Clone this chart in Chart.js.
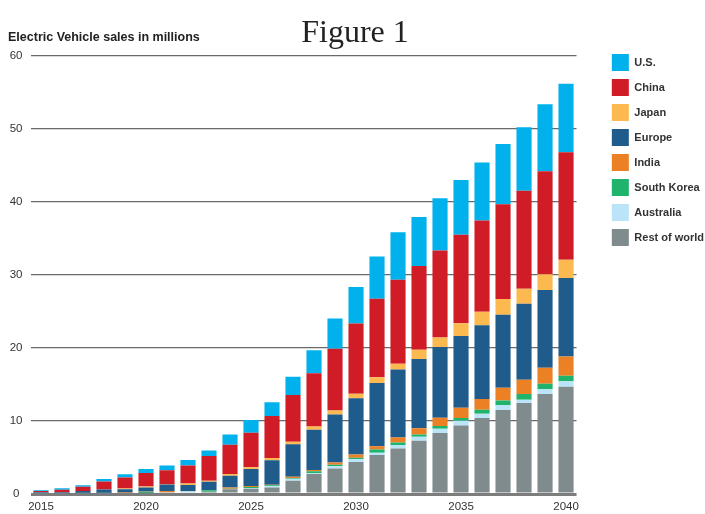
<!DOCTYPE html>
<html>
<head>
<meta charset="utf-8">
<script src="https://cdn.jsdelivr.net/npm/chart.js@4/dist/chart.umd.min.js"></script>
<style>
  html, body { margin: 0; padding: 0; background: #fff; }
  canvas { display: block; }
</style>
</head>
<body>
<canvas id="evChart" width="705" height="514"></canvas>
<script>
const years = ['2015','2016','2017','2018','2019','2020','2021','2022','2023','2024','2025','2026','2027',
  '2028','2029','2030','2031','2032','2033','2034','2035','2036','2037','2038','2039','2040'];
const tickYears = ['2015','2020','2025','2030','2035','2040'];

// millions of vehicles
const us = [0.1,0.2,0.2,0.35,0.45,0.55,0.65,0.75,0.73,1.42,1.75,1.9,2.5,3.15,4.15,5.0,5.8,6.5,6.7,7.15,7.5,7.95,8.25,8.7,9.2,9.4];
const china = [0.15,0.35,0.6,1.1,1.5,1.85,1.9,2.45,3.4,4.0,4.7,5.75,6.4,7.3,8.45,9.6,10.75,11.5,11.5,11.9,12.1,12.5,13.0,13.45,14.1,14.7];
const japan = [0,0,0,0,0.1,0.15,0.05,0.2,0.14,0.23,0.27,0.3,0.35,0.45,0.55,0.65,0.8,0.8,1.25,1.3,1.75,1.85,2.15,2.05,2.15,2.5];
const europe = [0.2,0.2,0.35,0.55,0.4,0.55,0.9,0.85,1.15,1.6,2.33,3.35,4.45,5.5,6.6,7.7,8.65,9.3,9.5,9.7,9.85,10.1,10.0,10.4,10.65,10.75];
const india = [0,0,0,0,0.1,0.03,0.15,0.03,0.03,0.18,0.12,0.08,0.15,0.2,0.3,0.45,0.45,0.7,0.85,1.15,1.4,1.45,1.75,1.95,2.2,2.65];
const southKorea = [0,0,0,0,0,0.2,0,0.02,0.18,0.03,0.13,0.15,0.1,0.25,0.2,0.2,0.45,0.35,0.3,0.35,0.35,0.55,0.65,0.8,0.75,0.75];
const australia = [0,0,0,0,0,0,0,0.15,0.02,0.05,0.1,0.15,0.3,0.1,0.3,0.35,0.3,0.45,0.55,0.6,0.65,0.6,0.65,0.45,0.65,0.75];
const restOfWorld = [0.05,0.03,0.05,0.05,0.15,0.1,0.25,0.2,0.3,0.64,0.73,0.9,1.8,2.75,3.5,4.4,5.35,6.25,7.3,8.35,9.4,10.4,11.5,12.45,13.7,14.7];

// bottom of the stack first
const series = [
  { label: 'Rest of world', data: restOfWorld, color: '#7f8b8d' },
  { label: 'Australia', data: australia, color: '#bce4f8' },
  { label: 'South Korea', data: southKorea, color: '#1fb36c' },
  { label: 'India', data: india, color: '#eb8024' },
  { label: 'Europe', data: europe, color: '#1f5b8b' },
  { label: 'Japan', data: japan, color: '#fbb94f' },
  { label: 'China', data: china, color: '#d01c27' },
  { label: 'U.S.', data: us, color: '#00b1ec' },
];

const textPlugin = {
  id: 'figureText',
  afterDraw(chart) {
    const ctx = chart.ctx;
    ctx.save();
    ctx.fillStyle = '#222';
    ctx.textBaseline = 'alphabetic';
    ctx.textAlign = 'center';
    ctx.font = '32px "Liberation Serif", "Times New Roman", serif';
    ctx.fillText('Figure 1', 355, 42);
    ctx.textAlign = 'left';
    ctx.font = 'bold 12.5px "Liberation Sans", Arial, sans-serif';
    ctx.fillText('Electric Vehicle sales in millions', 8, 41, 197);
    ctx.restore();
  }
};

const ctx = document.getElementById('evChart').getContext('2d');
new Chart(ctx, {
  type: 'bar',
  data: {
    labels: years,
    datasets: series.map(s => ({
      label: s.label,
      data: s.data,
      backgroundColor: s.color,
      borderWidth: 0,
      categoryPercentage: 1,
      barPercentage: 0.72,
    })),
  },
  options: {
    responsive: false,
    animation: false,
    layout: { padding: { top: 46, left: 0, right: -9, bottom: 0 } },
    plugins: {
      tooltip: { enabled: false },
      legend: {
        position: 'right',
        align: 'start',
        reverse: true,
        labels: {
          boxWidth: 17,
          boxHeight: 17,
          padding: 8,
          color: '#333',
          font: { family: '"Liberation Sans", Arial, sans-serif', size: 11, weight: 'bold' },
        },
      },
    },
    scales: {
      x: {
        stacked: true,
        grid: { display: false, drawTicks: false },
        border: { display: false },
        afterFit(scale) { scale.height = 20; },
        ticks: {
          autoSkip: false,
          maxRotation: 0,
          padding: 6,
          color: '#333',
          font: { family: '"Liberation Sans", Arial, sans-serif', size: 11.5 },
          callback(value) {
            const lbl = this.getLabelForValue(value);
            return tickYears.includes(lbl) ? lbl : '';
          },
        },
      },
      xTop: {
        type: 'category',
        labels: years,
        position: 'top',
        display: true,
        grid: { display: false, drawTicks: false },
        border: { display: false },
        ticks: { display: false },
        afterFit(scale) { scale.height = 10; },
      },
      y: {
        stacked: true,
        min: 0,
        max: 60,
        afterFit(scale) { scale.width = 30.5; },
        border: { display: false },
        grid: {
          drawTicks: false,
          color: ctx => ctx.tick && ctx.tick.value === 0 ? '#7d7d7d' : '#6a6a6a',
          lineWidth: ctx => ctx.tick && ctx.tick.value === 0 ? 3 : 1.3,
        },
        ticks: {
          stepSize: 10,
          padding: 8,
          crossAlign: 'center',
          color: '#333',
          font: { family: '"Liberation Sans", Arial, sans-serif', size: 11.5 },
        },
      },
      yRight: {
        type: 'linear',
        position: 'right',
        display: true,
        grid: { display: false, drawTicks: false },
        border: { display: false },
        ticks: { display: false },
        afterFit(scale) { scale.width = 27.3; },
      },
    },
  },
  plugins: [textPlugin],
});
</script>
</body>
</html>
